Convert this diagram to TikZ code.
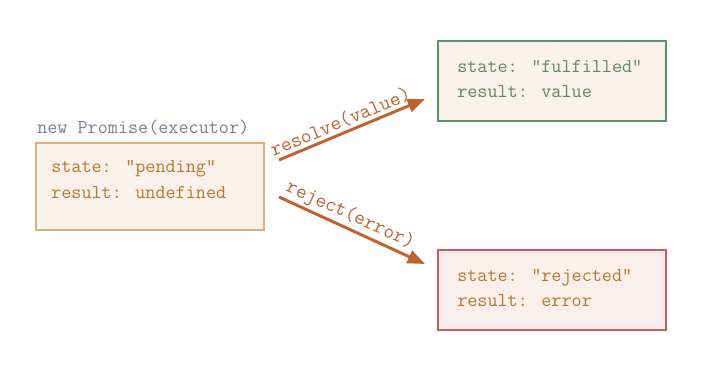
\documentclass[tikz,border=0pt]{standalone}
\usepackage{xcolor}
\usepackage{tikz}
\usetikzlibrary{arrows.meta}
\definecolor{pendline}{RGB}{217,176,128}
\definecolor{pendtext}{RGB}{182,120,44}
\definecolor{okline}{RGB}{91,143,107}
\definecolor{oktext}{RGB}{95,138,98}
\definecolor{badline}{RGB}{208,89,93}
\definecolor{boxfill}{RGB}{250,241,235}
\definecolor{badfill}{RGB}{251,239,236}
\definecolor{arrowcol}{RGB}{192,98,47}
\definecolor{titlegray}{RGB}{122,128,142}
\newcommand{\codefont}{\ttfamily\fontsize{14.7}{19.5}\selectfont}
\newcommand{\labelfont}{\ttfamily\fontsize{15.6}{19.5}\selectfont}

\begin{document}
\begin{tikzpicture}[x=0.75pt, y=-0.75pt,
    statebox/.style={draw, line width=1.8pt, fill=boxfill, minimum width=171pt, minimum height=60pt, anchor=north west},
    codeline/.style={anchor=base west, inner sep=0pt, font=\codefont},
    move/.style={draw=arrowcol, line width=2.2pt, -{Triangle[length=13pt, width=10pt]}},
    movelabel/.style={sloped, above, inner sep=1.5pt, text=arrowcol, font=\labelfont}]
    % Page frame
    \useasboundingbox (0,0) rectangle (705,368);

    % Starting promise
    \node[codeline, text=titlegray] (title) at (37,133) {new Promise(executor)};
    \node[statebox, draw=pendline, minimum height=65pt] (pending) at (35,142) {};
    \node[codeline, text=pendtext] (pendstate) at (51,172) {state: "pending"};
    \node[codeline, text=pendtext] (pendresult) at (51,198) {result: undefined};

    % Fulfilled outcome
    \node[statebox, draw=okline] (fulfilled) at (437,40) {};
    \node[codeline, text=oktext] (okstate) at (457,72) {state: "fulfilled"};
    \node[codeline, text=oktext] (okresult) at (457,97) {result: value};

    % Rejected outcome
    \node[statebox, draw=badline, fill=badfill] (rejected) at (437,249) {};
    \node[codeline, text=pendtext] (badstate) at (457,281) {state: "rejected"};
    \node[codeline, text=pendtext] (badresult) at (457,306) {result: error};

    % Transitions
    \coordinate (res0) at (279,160);
    \coordinate (res1) at (425,99);
    \coordinate (rej0) at (279,197);
    \coordinate (rej1) at (425,264);
    \draw[move] (res0) -- node[movelabel, pos=0.45] {resolve(value)} (res1);
    \draw[move] (rej0) -- node[movelabel, pos=0.45] {reject(error)} (rej1);
\end{tikzpicture}
\end{document}
